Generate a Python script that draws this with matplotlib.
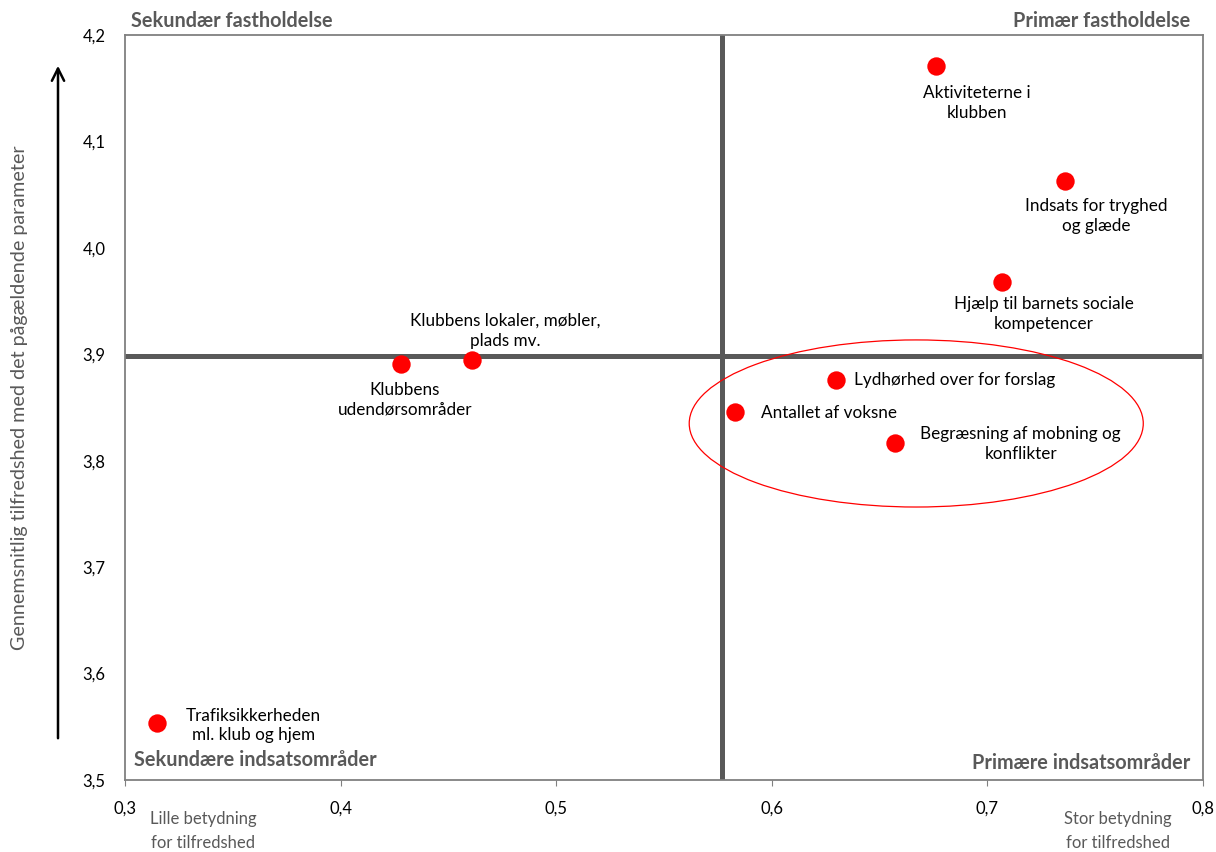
import matplotlib
matplotlib.use("Agg")
import matplotlib.pyplot as plt
from matplotlib.patches import Ellipse

plt.rcParams['font.family'] = ['Lato', 'DejaVu Sans']

# data
labels = [
    "Aktiviteterne i\nklubben",
    "Indsats for tryghed\nog glæde",
    "Hjælp til barnets sociale\nkompetencer",
    "Lydhørhed over for forslag",
    "Antallet af voksne",
    "Begræsning af mobning og\nkonflikter",
    "Klubbens lokaler, møbler,\nplads mv.",
    "Klubbens\nudendørsområder",
    "Trafiksikkerheden\nml. klub og hjem",
]
betydning = [0.676, 0.736, 0.707, 0.630, 0.583, 0.657, 0.461, 0.428, 0.315]
tilfredshed = [4.171, 4.063, 3.968, 3.876, 3.846, 3.817, 3.895, 3.891, 3.554]

x_mid = 0.577
y_mid = 3.898

# label offsets in pixels and alignment
offsets = [(41, -37, 'center'), (31, -35, 'center'), (41, -32, 'center'),
           (18, 0, 'left'), (26, -1, 'left'), (126, -1, 'center'),
           (33, 29, 'center'), (4, -36, 'center'), (96, -3, 'center')]

fig = plt.figure(figsize=(12.16, 8.52), dpi=100)
ax = fig.add_axes([0.1028, 0.0845, 0.8865, 0.8744])

grey = '#595959'
ax.axvline(x_mid, color=grey, lw=3.6, zorder=1)
ax.axhline(y_mid, color=grey, lw=3.6, zorder=1)

ax.scatter(betydning, tilfredshed, s=175, color='#ff0000', zorder=3, linewidths=0)
for lab, x, y, (dx, dy, ha) in zip(labels, betydning, tilfredshed, offsets):
    ax.annotate(lab, (x, y), xytext=(dx, dy), textcoords='offset pixels',
                ha=ha, va='center', fontsize=12.3, color='black', linespacing=1.3)

ax.add_patch(Ellipse((0.667, 3.835), 0.2106, 0.157, fill=False,
                     edgecolor='#ff0000', lw=0.9, zorder=2))

ax.set_xlim(0.3, 0.8)
ax.set_ylim(3.5, 4.2)
ax.set_xticks([0.3, 0.4, 0.5, 0.6, 0.7, 0.8])
ax.set_yticks([3.5, 3.6, 3.7, 3.8, 3.9, 4.0, 4.1, 4.2])
ax.set_xticklabels([f"{v:.1f}".replace('.', ',') for v in ax.get_xticks()])
ax.set_yticklabels([f"{v:.1f}".replace('.', ',') for v in ax.get_yticks()])
ax.tick_params(axis='x', length=4, color='#808080', pad=11, labelsize=12)
ax.tick_params(axis='y', length=0, pad=14, labelsize=12)
for sp in ax.spines.values():
    sp.set_color('#808080')
    sp.set_linewidth(1.3)

# quadrant titles
qkw = dict(fontsize=14.3, fontweight='bold', color=grey)
ax.text(0.006, 1.005, "Sekundær fastholdelse", transform=ax.transAxes, ha='left', va='bottom', **qkw)
ax.text(0.988, 1.005, "Primær fastholdelse", transform=ax.transAxes, ha='right', va='bottom', **qkw)
ax.text(0.008, 0.014, "Sekundære indsatsområder", transform=ax.transAxes, ha='left', va='bottom', **qkw)
ax.text(0.988, 0.010, "Primære indsatsområder", transform=ax.transAxes, ha='right', va='bottom', **qkw)

# axis notes
fig.text(203 / 1216, 1 - 831 / 852, "Lille betydning\nfor tilfredshed", ha='center', va='center',
         fontsize=12, color=grey, linespacing=1.6)
fig.text(1118 / 1216, 1 - 831 / 852, "Stor betydning\nfor tilfredshed", ha='center', va='center',
         fontsize=12, color=grey, linespacing=1.6)
fig.text(20 / 1216, 1 - 398 / 852, "Gennemsnitlig tilfredshed med det pågældende parameter",
         rotation=90, ha='center', va='center', fontsize=14.2, color=grey)

ax.annotate("", xy=(58 / 1216, 1 - 63 / 852), xytext=(58 / 1216, 1 - 741 / 852),
            xycoords='figure fraction', textcoords='figure fraction',
            arrowprops=dict(arrowstyle='->', color='black', lw=1.8, mutation_scale=22))

fig.savefig("out.png", dpi=100)
